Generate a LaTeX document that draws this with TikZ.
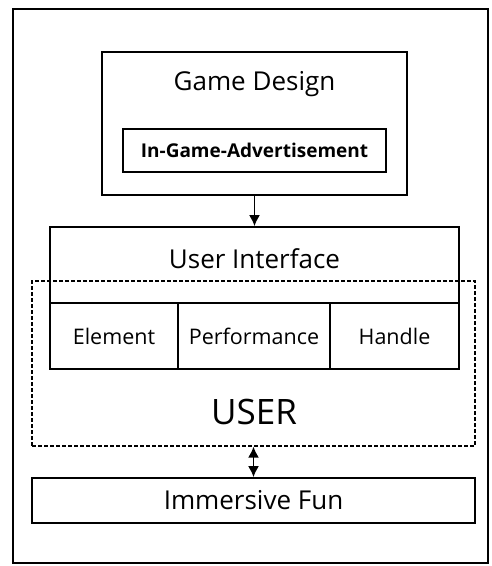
\documentclass[tikz,border=0pt]{standalone}
\usepackage{fontspec}
\setmainfont{Open Sans}
\usetikzlibrary{arrows.meta}
\begin{document}
\begin{tikzpicture}[x=1pt, y=-1pt, >={Latex[length=11pt,width=11pt]}, line width=1.7pt,
  box/.style={draw, inner sep=0pt},
  big/.style={font=\fontsize{26}{30}\selectfont},
  small/.style={font=\fontsize{21.5}{25}\selectfont}]
  \useasboundingbox (0,0) rectangle (491,566);
  % 1. outer frame
  \draw[line width=1.2pt] (13,9) rectangle (488,563);

  % 2. game design block
  \node[box, minimum width=305, minimum height=143] (design) at (254.5,123.5) {};
  \node[big] (designlabel) at (254.5,84) {Game Design};
  \node[box, line width=1.3pt, minimum width=263, minimum height=43, font=\fontsize{19}{22}\selectfont\bfseries] (iga) at (254.5,150.5) {In-Game-Advertisement};

  % 3. user interface and its three parts
  \node[box, minimum width=409, minimum height=76] (ui) at (254.5,265) {};
  \node[big] (uilabel) at (254.5,259) {User Interface};
  \node[box, small, minimum width=128, minimum height=66] (element) at (114,336) {Element};
  \node[box, small, minimum width=152, minimum height=66] (perf) at (254,336) {Performance};
  \node[box, small, minimum width=129, minimum height=66] (handle) at (394.5,336) {Handle};

  % 4. user dashed region
  \node[box, dashed, dash pattern=on 4pt off 2pt, line width=1.2pt, minimum width=443, minimum height=165] (user) at (253.5,363.5) {};
  \node[font=\fontsize{35}{40}\selectfont] (userlabel) at (254,412) {USER};

  % 5. immersive fun
  \node[box, big, minimum width=443, minimum height=45] (fun) at (253.5,500.5) {Immersive Fun};

  % 6. arrows
  \draw[->] (design.south) -- (ui.north);
  \draw[<->] (user.south) -- (fun.north);
\end{tikzpicture}
\end{document}
